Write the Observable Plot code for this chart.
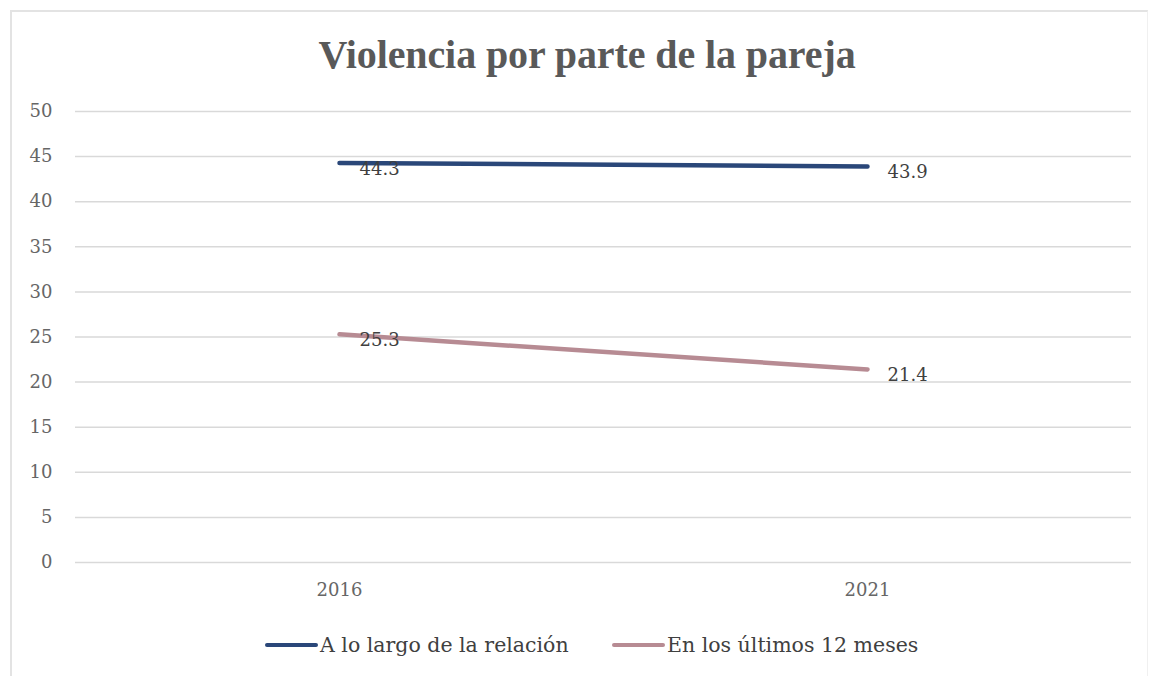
<!DOCTYPE html>
<html>
<head>
<meta charset="utf-8">
<script src="https://cdn.jsdelivr.net/npm/d3@7"></script>
<script src="https://cdn.jsdelivr.net/npm/@observablehq/plot@0.6"></script>
<style>
  html, body { margin: 0; padding: 0; background: #fff; }
  body { width: 1151px; height: 676px; position: relative; overflow: hidden; font-family: "DejaVu Serif", "Liberation Serif", serif; }
  #frame { position: absolute; left: 10px; top: 10px; width: 1135px; height: 680px; border-top: 2px solid #e3e3e3; border-left: 2px solid #e3e3e3; border-right: 1px solid #f0f0f0; }
  #title { position: absolute; left: 0; top: 31px; width: 1174px; text-align: center; font-family: "Liberation Serif", serif; font-size: 40px; font-weight: bold; color: #595959; letter-spacing: -0.1px; }
  #chart { position: absolute; left: 0; top: 90px; }
  #legend { position: absolute; top: 633px; left: 0; width: 1151px; height: 24px; }
  .item { position: absolute; top: 0; display: flex; align-items: center; font-size: 20.5px; color: #404040; white-space: nowrap; }
  .sw { display: inline-block; width: 53px; height: 4px; border-radius: 2px; margin-right: 2px; }
</style>
</head>
<body>
<div id="frame"></div>
<div id="title">Violencia por parte de la pareja</div>
<div id="chart"></div>
<div id="legend"></div>
<script>
const years = ["2016", "2021"];
const seriesNames = ["A lo largo de la relación", "En los últimos 12 meses"];
const valuesRelacion = [44.3, 43.9];
const valuesUltimos = [25.3, 21.4];
const seriesColors = ["#2a4779", "#b78b93"];
const yTicks = [0, 5, 10, 15, 20, 25, 30, 35, 40, 45, 50];

const data = [];
years.forEach((yr, i) => {
  data.push({year: yr, value: valuesRelacion[i], serie: seriesNames[0]});
  data.push({year: yr, value: valuesUltimos[i], serie: seriesNames[1]});
});

const plot = Plot.plot({
  width: 1151,
  height: 520,
  marginLeft: 75,
  marginRight: 20,
  marginTop: 21,
  marginBottom: 48,
  style: {fontFamily: "DejaVu Serif, Liberation Serif, serif", fontSize: "18px", color: "#666666", background: "transparent"},
  x: {type: "point", domain: years, padding: 0.5, label: null},
  y: {domain: [0, 50], label: null},
  color: {domain: seriesNames, range: seriesColors},
  marks: [
    Plot.gridY(yTicks, {stroke: "#d9d9d9", strokeOpacity: 1, strokeWidth: 1.5}),
    Plot.axisY(yTicks, {tickSize: 0, tickPadding: 23, fontSize: 18, fill: "#666666", label: null}),
    Plot.axisX({tickSize: 0, tickPadding: 21, fontSize: 18, fill: "#666666", label: null}),
    Plot.line(data, {x: "year", y: "value", z: "serie", stroke: "serie", strokeWidth: 4.5, strokeLinecap: "round"}),
    Plot.text(data, {x: "year", y: "value", text: d => d.value.toFixed(1), textAnchor: "start", dx: 20, dy: 6, fontSize: 18, fill: "#404040"})
  ]
});
document.getElementById("chart").appendChild(plot);

const legend = document.getElementById("legend");
const lefts = [265, 612];
seriesNames.forEach((name, i) => {
  const it = document.createElement("div");
  it.className = "item";
  it.style.left = lefts[i] + "px";
  it.innerHTML = `<span class="sw" style="background:${seriesColors[i]}"></span><span>${name}</span>`;
  legend.appendChild(it);
});
</script>
</body>
</html>
